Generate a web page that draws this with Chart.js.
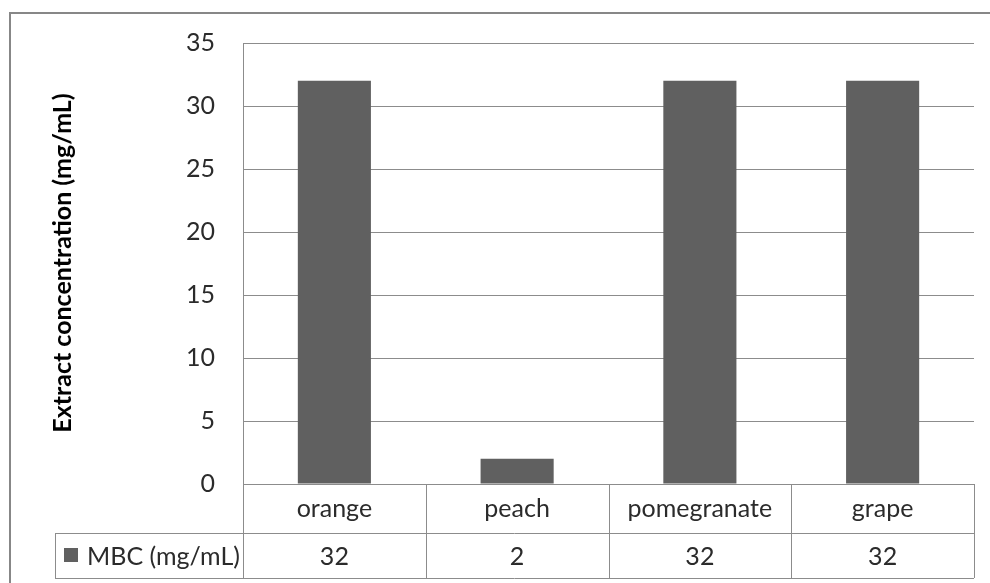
<!DOCTYPE html>
<html>
<head>
<meta charset="utf-8">
<script src="https://cdn.jsdelivr.net/npm/chart.js@4/dist/chart.umd.min.js"></script>
<style>
  html, body { margin: 0; padding: 0; background: #ffffff; }
  #wrap { position: relative; width: 990px; height: 583px; }
  canvas { display: block; }
</style>
</head>
<body>
<div id="wrap"><canvas id="chart" width="990" height="583"></canvas></div>
<script>
const categories = ['orange', 'peach', 'pomegranate', 'grape'];
const mbcValues = [32, 2, 32, 32];
const seriesName = 'MBC (mg/mL)';
const yTitle = 'Extract concentration (mg/mL)';
const yMin = 0, yMax = 35, yStep = 5;

const FONT = "Lato, 'Open Sans', sans-serif";
const FONT_SIZE = 25;
const TEXT = '#2b2b2b';
const LINE = '#8c8c8c';
const BAR = '#606060';

// Frame, rotated axis title and the data table underneath the plot
const tablePlugin = {
  id: 'dataTable',
  afterDraw(chart) {
    const ctx = chart.ctx;
    const x = chart.scales.x;
    const area = chart.chartArea;
    const top = area.bottom;
    const rowH1 = 49, rowH2 = 45;
    const mid = top + rowH1;
    const bottom = mid + rowH2;
    const keyLeft = 55;

    ctx.save();
    // outer chart frame
    ctx.strokeStyle = '#878787';
    ctx.lineWidth = 2;
    ctx.beginPath();
    ctx.moveTo(10, 600);
    ctx.lineTo(10, 13);
    ctx.lineTo(1000, 13);
    ctx.stroke();

    // table grid
    ctx.strokeStyle = LINE;
    ctx.lineWidth = 1;
    ctx.beginPath();
    ctx.moveTo(area.left, top + 0.5); ctx.lineTo(area.right, top + 0.5);
    ctx.moveTo(keyLeft, mid + 0.5); ctx.lineTo(area.right, mid + 0.5);
    ctx.moveTo(keyLeft, bottom + 0.5); ctx.lineTo(area.right, bottom + 0.5);
    ctx.moveTo(keyLeft + 0.5, mid); ctx.lineTo(keyLeft + 0.5, bottom);
    const half = (x.getPixelForValue(1) - x.getPixelForValue(0)) / 2;
    const edges = [area.left];
    categories.forEach((c, i) => edges.push(x.getPixelForValue(i) + half));
    edges[edges.length - 1] = area.right;
    edges.forEach(e => {
      const px = Math.round(e) + 0.5;
      ctx.moveTo(px, top); ctx.lineTo(px, bottom);
    });
    ctx.stroke();

    // header and value cells
    ctx.fillStyle = TEXT;
    ctx.font = FONT_SIZE + 'px ' + FONT;
    ctx.textAlign = 'center';
    ctx.textBaseline = 'middle';
    categories.forEach((c, i) => {
      const cx = x.getPixelForValue(i);
      ctx.fillText(c, cx, top + rowH1 / 2);
      ctx.fillText(String(mbcValues[i]), cx, mid + rowH2 / 2 + 1);
    });

    // legend key cell
    ctx.fillStyle = BAR;
    ctx.fillRect(64, mid + 15, 14, 14);
    ctx.fillStyle = TEXT;
    ctx.textAlign = 'left';
    ctx.fillText(seriesName, 87, mid + rowH2 / 2 + 1);

    // y-axis title
    ctx.translate(63, 263);
    ctx.rotate(-Math.PI / 2);
    ctx.textAlign = 'center';
    ctx.fillStyle = '#000000';
    ctx.font = 'bold ' + FONT_SIZE + 'px ' + FONT;
    ctx.fillText(yTitle, 0, 0);
    ctx.restore();
  }
};

new Chart(document.getElementById('chart'), {
  type: 'bar',
  data: {
    labels: categories,
    datasets: [{
      label: seriesName,
      data: mbcValues,
      backgroundColor: BAR,
      borderWidth: 0,
      barPercentage: 0.4,
      categoryPercentage: 1.0
    }]
  },
  options: {
    responsive: false,
    animation: false,
    layout: { padding: { left: 0, top: 42, right: 16, bottom: 99 } },
    plugins: { legend: { display: false }, tooltip: { enabled: false } },
    scales: {
      x: { display: false },
      y: {
        min: yMin, max: yMax,
        ticks: { stepSize: yStep, padding: 28, color: TEXT, font: { family: FONT, size: FONT_SIZE } },
        grid: { color: LINE, drawTicks: false, lineWidth: 1 },
        border: { display: true, color: LINE },
        afterFit(scale) { scale.width = 243; }
      }
    }
  },
  plugins: [tablePlugin]
});
</script>
</body>
</html>
